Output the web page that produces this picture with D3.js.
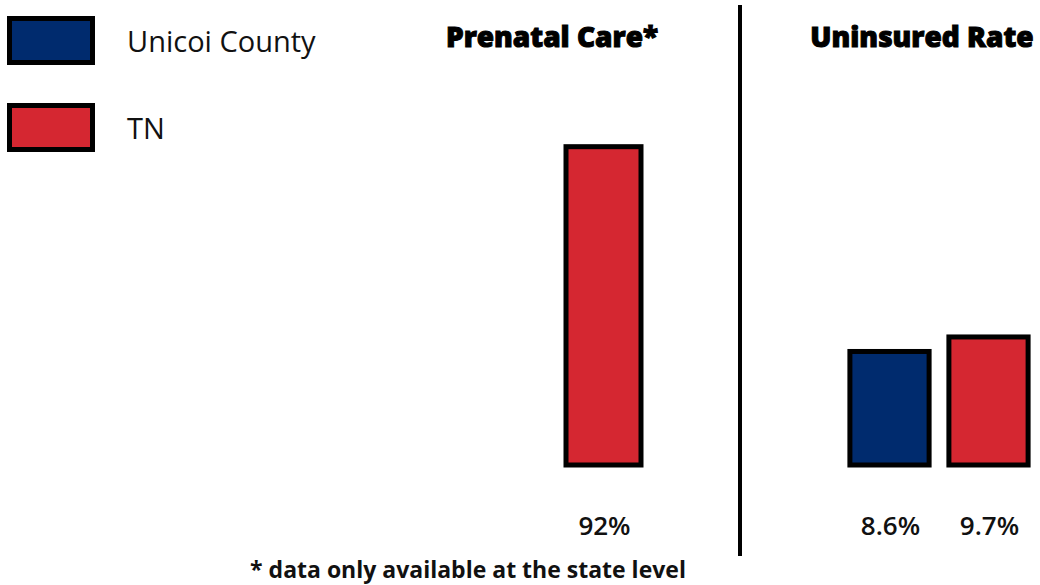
<!DOCTYPE html>
<html lang="en">
<head>
<meta charset="utf-8">
<title>Prenatal Care and Uninsured Rate</title>
<script src="https://cdnjs.cloudflare.com/ajax/libs/d3/7.8.5/d3.min.js"></script>
<style>
  body { margin: 0; background: #fff; }
  svg { display: block; }
  .legend-text { font-family: "Open Sans", sans-serif; font-size: 29px; fill: #111; }
  .title { font-family: "Open Sans", sans-serif; font-weight: 800; font-size: 28px; fill: #000;
           stroke: #000; stroke-width: 1px; }
  .val { font-family: "Open Sans", sans-serif; font-weight: 600; font-size: 26px; fill: #111; }
  .note { font-family: "Open Sans", sans-serif; font-weight: 700; font-size: 23px; fill: #111; }
</style>
</head>
<body>
<div id="chart"></div>
<script>
// data
const series = ["Unicoi County", "TN"];
const colors = ["#002b6e", "#d52731"];
const prenatalValues = [null, 92];      // county data not available
const uninsuredValues = [8.6, 9.7];
const titles = ["Prenatal Care*", "Uninsured Rate"];
const footnote = "* data only available at the state level";

const width = 1040, height = 585;
const baseY = 465;

const svg = d3.select("#chart").append("svg")
  .attr("width", width).attr("height", height);

// legend
const legend = svg.append("g").attr("class", "legend");
series.forEach((s, i) => {
  const g = legend.append("g").attr("transform", `translate(0,${i * 87})`);
  g.append("rect")
    .attr("x", 9.5).attr("y", 18.5).attr("width", 83).attr("height", 44)
    .attr("fill", colors[i]).attr("stroke", "#000").attr("stroke-width", 5);
  g.append("text").attr("class", "legend-text")
    .attr("x", 127).attr("y", 52).text(s);
});

// panel scales (each panel has its own value scale)
const yPrenatal = d3.scaleLinear().domain([0, 100]).range([baseY, baseY - 346]);
const yUninsured = d3.scaleLinear().domain([0, 10]).range([baseY, baseY - 132]);

const xPrenatal = d3.scaleBand().domain(["TN"]).range([566, 641]);
const xUninsured = d3.scaleBand().domain(series).range([840, 1038])
  .paddingInner(0.2).paddingOuter(0.1);

function drawPanel(values, x, y, fmt) {
  const data = series.map((s, i) => ({ s, v: values[i], c: colors[i] }))
    .filter(d => d.v != null && x.domain().includes(d.s));
  const g = svg.append("g");
  g.selectAll("rect").data(data).join("rect")
    .attr("x", d => x(d.s))
    .attr("y", d => y(d.v))
    .attr("width", x.bandwidth())
    .attr("height", d => y(0) - y(d.v))
    .attr("fill", d => d.c)
    .attr("stroke", "#000")
    .attr("stroke-width", 5);
  g.selectAll("text").data(data).join("text")
    .attr("class", "val")
    .attr("x", d => x(d.s) + x.bandwidth() / 2 + 1)
    .attr("y", 535)
    .attr("text-anchor", "middle")
    .text(d => fmt(d.v));
}

drawPanel(prenatalValues, xPrenatal, yPrenatal, v => v + "%");
drawPanel(uninsuredValues, xUninsured, yUninsured, v => v.toFixed(1) + "%");

// titles
svg.append("text").attr("class", "title")
  .attr("x", 552).attr("y", 47).attr("text-anchor", "middle").text(titles[0]);
svg.append("text").attr("class", "title")
  .attr("x", 922).attr("y", 47).attr("text-anchor", "middle").text(titles[1]);

// divider
svg.append("line")
  .attr("x1", 740).attr("x2", 740).attr("y1", 5).attr("y2", 556)
  .attr("stroke", "#000").attr("stroke-width", 4);

// footnote
svg.append("text").attr("class", "note")
  .attr("x", 468).attr("y", 578).attr("text-anchor", "middle").text(footnote);
</script>
</body>
</html>
